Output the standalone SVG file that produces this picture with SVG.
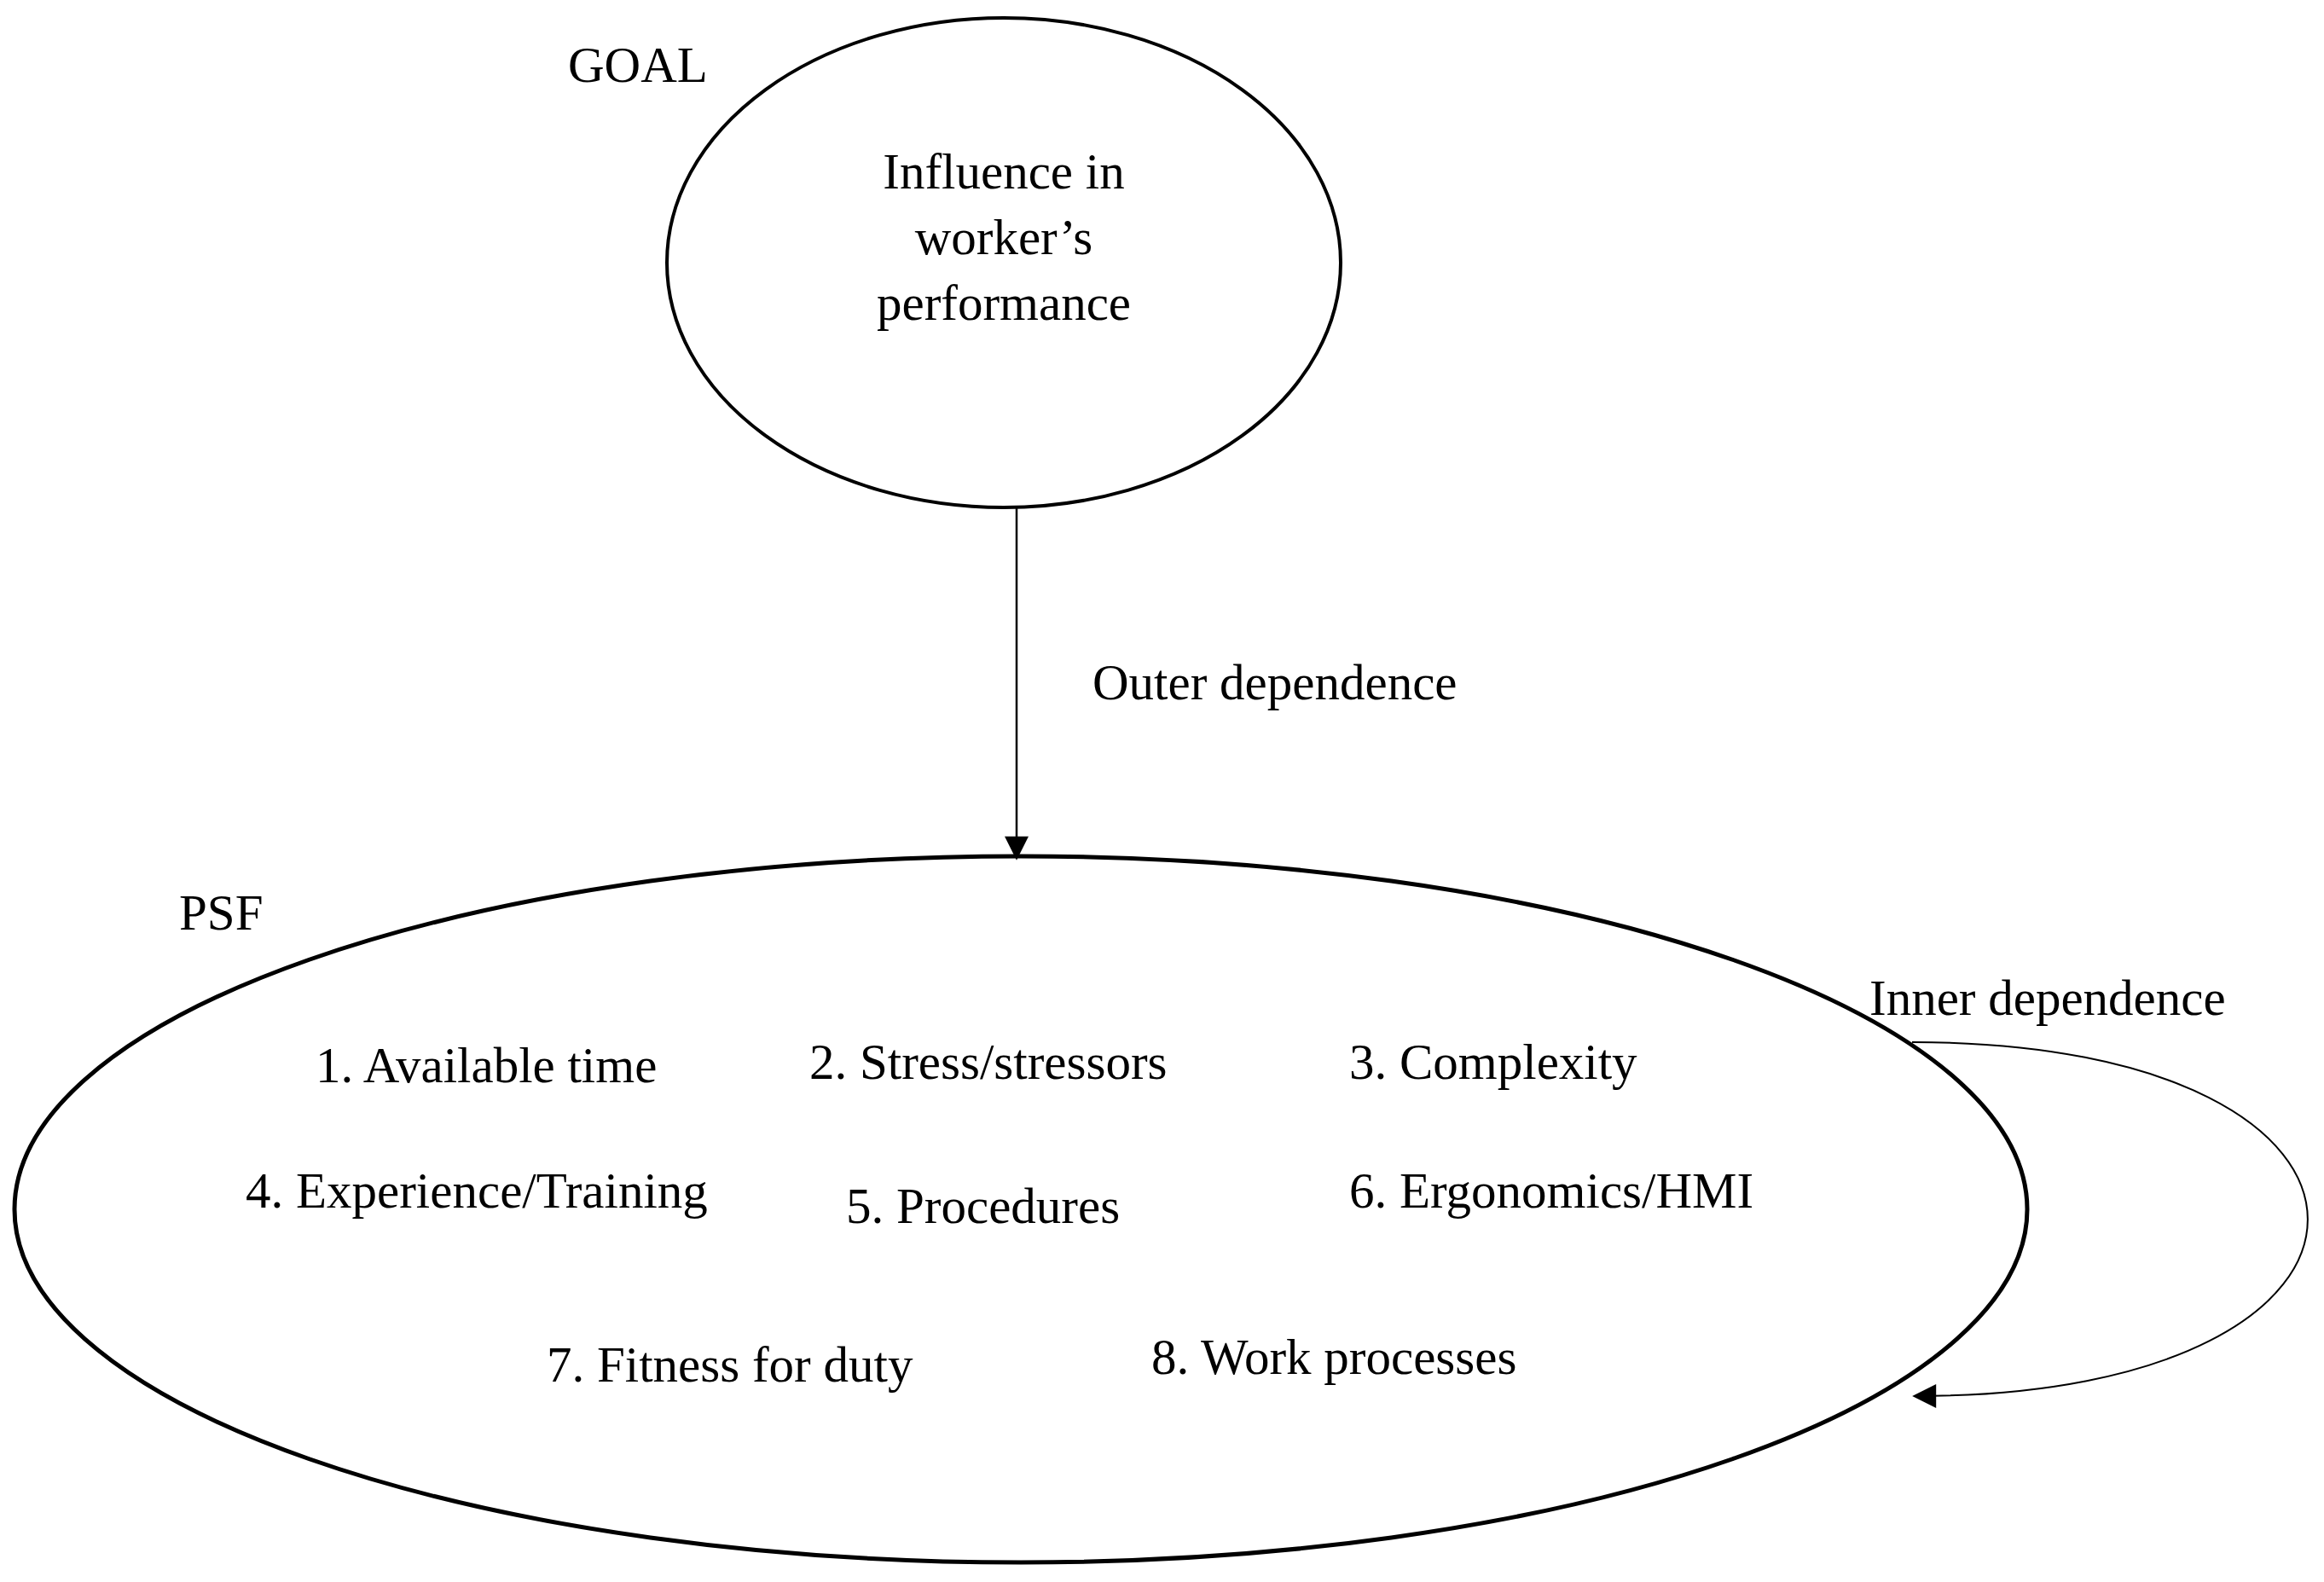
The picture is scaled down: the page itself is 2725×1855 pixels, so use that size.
<svg xmlns="http://www.w3.org/2000/svg" width="2725" height="1855" viewBox="0 0 2725 1855">
<style>
text{font-family:"Liberation Serif","Times New Roman",serif;font-size:59px;fill:#000}
.c{text-anchor:middle}
.n{fill:none;stroke:#000}
</style>
<defs>
<marker id="ah" markerWidth="10" markerHeight="10" refX="9" refY="5" orient="auto" markerUnits="userSpaceOnUse" viewBox="0 0 10 10">
<path d="M0,0L10,5L0,10Z" fill="#000"/>
</marker>
<marker id="ah2" viewBox="0 0 10 10" refX="9" refY="5" markerWidth="34" markerHeight="28" orient="auto" markerUnits="userSpaceOnUse">
<path d="M0,0L10,5L0,10Z" fill="#000"/>
</marker>
</defs>
<rect width="2725" height="1855" fill="#fff"/>
<g id="goal">
<ellipse class="n" cx="1177" cy="308" rx="395" ry="287" stroke-width="4"/>
<text x="666" y="96">GOAL</text>
<text class="c" x="1177" y="221">Influence in</text>
<text class="c" x="1177" y="298">worker’s</text>
<text class="c" x="1177" y="375">performance</text>
</g>
<g id="psf">
<ellipse class="n" cx="1197" cy="1418" rx="1180" ry="414" stroke-width="5"/>
<text x="210" y="1090">PSF</text>
<text x="370" y="1269">1. Available time</text>
<text x="949" y="1265">2. Stress/stressors</text>
<text x="1582" y="1265">3. Complexity</text>
<text x="288" y="1416">4. Experience/Training</text>
<text x="992" y="1434">5. Procedures</text>
<text x="1582" y="1416">6. Ergonomics/HMI</text>
<text x="641" y="1620">7. Fitness for duty</text>
<text x="1350" y="1611">8. Work processes</text>
</g>
<g id="connectors">
<line class="n" x1="1192" y1="594" x2="1192" y2="1006" stroke-width="2.5" marker-end="url(#ah2)"/>
<text x="1281" y="820">Outer dependence</text>
<path class="n" d="M2242,1222 C2860,1222 2860,1637 2245,1637" stroke-width="2" marker-end="url(#ah2)"/>
<text x="2192" y="1190">Inner dependence</text>
</g>
</svg>
